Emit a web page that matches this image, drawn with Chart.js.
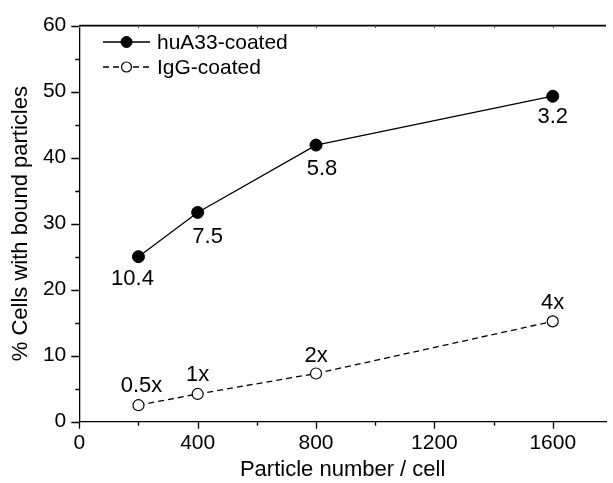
<!DOCTYPE html>
<html><head><meta charset="utf-8">
<script src="https://cdn.jsdelivr.net/npm/chart.js@4.4.1/dist/chart.umd.min.js"></script>
<style>html,body{margin:0;padding:0;background:#fff;} canvas{display:block;}</style>
</head><body>
<canvas id="c" width="613" height="483"></canvas>
<script>
const particleNumbers = [200, 400, 800, 1600];
const huA33Values = [25.0, 31.7, 41.9, 49.3];
const iggValues = [2.5, 4.2, 7.3, 15.2];
const huA33PointLabels = ['10.4', '7.5', '5.8', '3.2'];
const iggPointLabels = ['0.5x', '1x', '2x', '4x'];
const xTickValues = [0, 400, 800, 1200, 1600];
const xMinorTickValues = [200, 600, 1000, 1400];
const yTickValues = [0, 10, 20, 30, 40, 50, 60];
const yMinorTickValues = [5, 15, 25, 35, 45, 55];
const seriesNames = ['huA33-coated', 'IgG-coated'];

const FONT = "'Liberation Sans', Arial, sans-serif";
const style = {
  labelOffsets: [
    [[-6, 22], [10, 25], [6, 24], [0, 21]],
    [[3, -19], [0, -19], [0, -18], [0, -18]]
  ]
};

const toPoints = (xs, ys) => xs.map((x, i) => ({x: x, y: ys[i]}));

const drawPlugin = {
  id: 'extras',
  afterDraw(chart) {
    const ctx = chart.ctx;
    const xs = chart.scales.x, ys = chart.scales.y;
    const area = chart.chartArea;
    ctx.save();
    ctx.strokeStyle = '#000';
    ctx.lineWidth = 1.3;
    ctx.beginPath();
    xTickValues.forEach(v => { const p = Math.round(xs.getPixelForValue(v)) + 0.5; ctx.moveTo(p, area.bottom); ctx.lineTo(p, area.bottom + 7); });
    xMinorTickValues.forEach(v => { const p = Math.round(xs.getPixelForValue(v)) + 0.5; ctx.moveTo(p, area.bottom); ctx.lineTo(p, area.bottom + 4); });
    yTickValues.forEach(v => { const p = Math.round(ys.getPixelForValue(v)) + 0.5; ctx.moveTo(area.left, p); ctx.lineTo(area.left - 8, p); });
    yMinorTickValues.forEach(v => { const p = Math.round(ys.getPixelForValue(v)) + 0.5; ctx.moveTo(area.left, p); ctx.lineTo(area.left - 4, p); });
    ctx.stroke();
    ctx.lineWidth = 1.8;
    ctx.beginPath();
    ctx.moveTo(area.left, area.top); ctx.lineTo(area.right, area.top);
    ctx.stroke();
    ctx.lineWidth = 1;
    ctx.strokeStyle = '#555';
    ctx.beginPath();
    xTickValues.concat(xMinorTickValues).forEach(v => { const p = Math.round(xs.getPixelForValue(v)) + 0.5; ctx.moveTo(p, area.top); ctx.lineTo(p, area.top + 2.5); });
    ctx.stroke();

    ctx.fillStyle = '#000';
    ctx.font = '22px ' + FONT;
    ctx.textAlign = 'center';
    ctx.textBaseline = 'middle';
    [huA33PointLabels, iggPointLabels].forEach((labels, di) => {
      const meta = chart.getDatasetMeta(di);
      meta.data.forEach((pt, i) => {
        const o = style.labelOffsets[di][i];
        ctx.fillText(labels[i], pt.x + o[0], pt.y + o[1]);
      });
    });

    const rows = [42, 67];
    chart.data.datasets.forEach((ds, di) => {
      const y = rows[di];
      ctx.strokeStyle = ds.borderColor;
      ctx.lineWidth = ds.borderWidth;
      ctx.setLineDash(ds.borderDash || []);
      ctx.beginPath();
      ctx.moveTo(103, y); ctx.lineTo(150, y);
      ctx.stroke();
      ctx.setLineDash([]);
      ctx.beginPath();
      ctx.arc(126.5, y, ds.pointRadius - 0.5, 0, Math.PI * 2);
      ctx.fillStyle = ds.pointBackgroundColor;
      ctx.fill();
      ctx.lineWidth = ds.pointBorderWidth;
      ctx.strokeStyle = ds.pointBorderColor;
      ctx.stroke();
      ctx.fillStyle = '#000';
      ctx.font = '21px ' + FONT;
      ctx.textAlign = 'left';
      ctx.fillText(ds.label, 157, y + 1);
    });
    ctx.restore();
  }
};

new Chart(document.getElementById('c'), {
  type: 'line',
  data: {
    datasets: [
      {
        label: seriesNames[0],
        data: toPoints(particleNumbers, huA33Values),
        borderColor: '#000', borderWidth: 1.3,
        pointRadius: 6, pointBackgroundColor: '#000', pointBorderColor: '#000', pointBorderWidth: 1,
        tension: 0
      },
      {
        label: seriesNames[1],
        data: toPoints(particleNumbers, iggValues),
        borderColor: '#000', borderWidth: 1.3, borderDash: [6, 4],
        pointRadius: 5.5, pointBackgroundColor: '#fff', pointBorderColor: '#000', pointBorderWidth: 1.2,
        tension: 0
      }
    ]
  },
  options: {
    responsive: false,
    devicePixelRatio: 1,
    animation: false,
    layout: {padding: {top: 24.3, right: 0, bottom: 0, left: 0}},
    plugins: {legend: {display: false}, tooltip: {enabled: false}},
    scales: {
      x: {
        type: 'linear', position: 'bottom', min: 0, max: 1780,
        grid: {display: false, drawTicks: false},
        border: {display: true, color: '#000', width: 1.3},
        ticks: {font: {size: 21, family: FONT}, color: '#000', padding: 9, maxRotation: 0, autoSkip: false,
                callback: v => String(v)},
        afterBuildTicks: s => { s.ticks = xTickValues.map(v => ({value: v})); },
        afterFit: s => { s.height = 61.3; },
        title: {display: true, text: 'Particle number / cell', color: '#000', font: {size: 22, family: FONT}, padding: {top: 0, bottom: 0}}
      },
      y: {
        type: 'linear', position: 'left', min: 0, max: 60,
        grid: {display: false, drawTicks: false},
        border: {display: true, color: '#000', width: 1.3},
        ticks: {font: {size: 21, family: FONT}, color: '#000', padding: 13, callback: v => String(v)},
        afterBuildTicks: s => { s.ticks = yTickValues.map(v => ({value: v})); },
        afterFit: s => { s.width = 79.3; },
        title: {display: true, text: '% Cells with bound particles', color: '#000', font: {size: 22, family: FONT}, padding: {top: 8, bottom: 0}}
      }
    }
  },
  plugins: [drawPlugin]
});
</script>
</body></html>
